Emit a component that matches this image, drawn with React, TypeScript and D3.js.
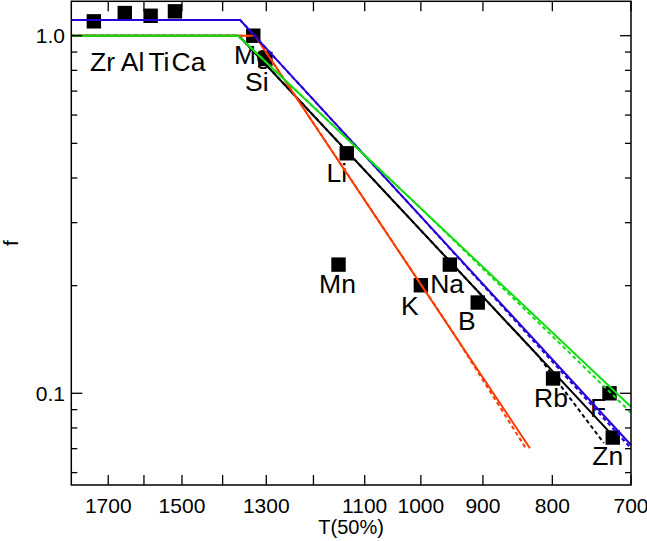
import React from "react"
import * as d3 from "d3"

// element condensation temperatures T(50%) and fraction f
const elements = ["Zr", "Al", "Ti", "Ca", "Mg", "Si", "Li", "Mn", "K", "Na", "B", "Rb", "F", "Zn"]
const tempValues = [1742, 1653, 1582, 1518, 1329, 1302, 1134, 1150, 1000, 952, 908, 799, 726, 722]
const fValues = [1.097, 1.157, 1.137, 1.17, 1.0, 0.861, 0.469, 0.229, 0.2005, 0.229, 0.1794, 0.11, 0.1, 0.0752]
// label nudges in px (dx, dy from the square centre)
const labelShift = [
  [8.7, 49.4], [7.8, 57.7], [8.3, 55], [13.6, 59.4], [-1, 28.7], [-8.5, 31.7], [-10, 28.4],
  [-1, 28.2], [-11, 29.7], [-2.7, 28.2], [-11, 27.5], [-2, 28.4], [-11.5, 23.4], [-5, 27.5],
]

// model curves: [T, f] break points
const blackSolid = [[1810, 1.0], [1362, 1.0], [716, 0.0736]]
const blackDash = [[1810, 1.0], [1362, 1.0], [820, 0.1276], [733, 0.0726]]
const redSolid = [[1810, 1.0], [1325, 1.0], [831, 0.0702]]
const redDash = [[1810, 1.0], [1325, 1.0], [950, 0.1508], [836, 0.0698]]
const blueSolid = [[1810, 1.106], [1359, 1.106], [700, 0.0717]]
const blueDash = [[1810, 1.106], [1359, 1.106], [1000, 0.312], [700, 0.0701]]
const greenSolid = [[1810, 1.0], [1364, 1.0], [700, 0.0917]]
const greenDash = [[1810, 1.0], [1364, 1.0], [1000, 0.329], [700, 0.0883]]

const xTicks = [1700, 1600, 1500, 1400, 1300, 1200, 1100, 1000, 900, 800, 700]
const xTickLabels = ["1700", "", "1500", "", "1300", "", "1100", "1000", "900", "800", "700"]
const yMajor = [0.1, 1.0]
const yMajorLabels = ["0.1", "1.0"]
const yMinor = [0.06, 0.07, 0.08, 0.09, 0.2, 0.3, 0.4, 0.5, 0.6, 0.7, 0.8, 0.9]

const W = 647
const H = 541
const left = 71.3
const right = 631
const top = 1.3
const bottom = 485
const font = "'Liberation Sans', Arial, Helvetica, sans-serif"

export default function App() {
  const x = d3.scaleLog().domain([1810, 700]).range([left, right])
  const y = d3.scaleLog().domain([0.0554, 1.248]).range([bottom, top])
  const line = d3
    .line<number[]>()
    .x(d => x(d[0]))
    .y(d => y(d[1]))

  const curves = [
    { d: blackDash, c: "#000000", dash: "4,3" },
    { d: blackSolid, c: "#000000", dash: "" },
    { d: redDash, c: "#ff3a00", dash: "4,3" },
    { d: redSolid, c: "#ff3a00", dash: "" },
    { d: blueDash, c: "#2a00d8", dash: "4,3" },
    { d: blueSolid, c: "#2a00d8", dash: "" },
    { d: greenDash, c: "#11dd11", dash: "4,3" },
    { d: greenSolid, c: "#11dd11", dash: "" },
  ]

  return (
    <svg width={W} height={H} style={{ position: "absolute", left: 0, top: 0, background: "#fff" }} fontFamily={font}>
      <rect x={0} y={0} width={W} height={H} fill="#fff" />

      {/* labels */}
      {elements.map((el, i) => (
        <text
          key={el}
          x={x(tempValues[i]) + labelShift[i][0]}
          y={y(fValues[i]) + labelShift[i][1]}
          fontSize={26.5}
          textAnchor="middle"
        >
          {el}
        </text>
      ))}

      {/* data squares */}
      {elements.map((el, i) => (
        <rect key={"p" + el} x={x(tempValues[i]) - 7.2} y={y(fValues[i]) - 7.2} width={14.4} height={14.4} fill="#000" />
      ))}

      {/* model lines */}
      <g fill="none" strokeWidth={2}>
        {curves.map((c, i) => (
          <path key={i} d={line(c.d) || ""} stroke={c.c} strokeDasharray={c.dash || undefined} />
        ))}
      </g>

      {/* frame */}
      <rect x={left} y={top} width={right - left} height={bottom - top} fill="none" stroke="#000" strokeWidth={1.5} />

      {/* x ticks */}
      {xTicks.map((t, i) => (
        <g key={"xt" + t}>
          <line x1={x(t)} x2={x(t)} y1={bottom} y2={bottom - 10} stroke="#000" strokeWidth={1.3} />
          <line x1={x(t)} x2={x(t)} y1={top} y2={top + 10} stroke="#000" strokeWidth={1.3} />
          {xTickLabels[i] && (
            <text x={x(t)} y={513.3} fontSize={21} textAnchor="middle">
              {xTickLabels[i]}
            </text>
          )}
        </g>
      ))}

      {/* y ticks */}
      {yMajor.map((v, i) => (
        <g key={"ym" + v}>
          <line x1={left} x2={left + 11} y1={y(v)} y2={y(v)} stroke="#000" strokeWidth={1.3} />
          <line x1={right} x2={right - 11} y1={y(v)} y2={y(v)} stroke="#000" strokeWidth={1.3} />
          <text x={65} y={y(v) + 7.5} fontSize={21} textAnchor="end">
            {yMajorLabels[i]}
          </text>
        </g>
      ))}
      {yMinor.map(v => (
        <g key={"yn" + v}>
          <line x1={left} x2={left + 6} y1={y(v)} y2={y(v)} stroke="#000" strokeWidth={1.3} />
          <line x1={right} x2={right - 6} y1={y(v)} y2={y(v)} stroke="#000" strokeWidth={1.3} />
        </g>
      ))}

      {/* axis titles */}
      <text x={(left + right) / 2} y={534} fontSize={20} textAnchor="middle">
        T(50%)
      </text>
      <text transform={`translate(18,${(top + bottom) / 2}) rotate(-90)`} fontSize={21} textAnchor="middle">
        f
      </text>
    </svg>
  )
}
